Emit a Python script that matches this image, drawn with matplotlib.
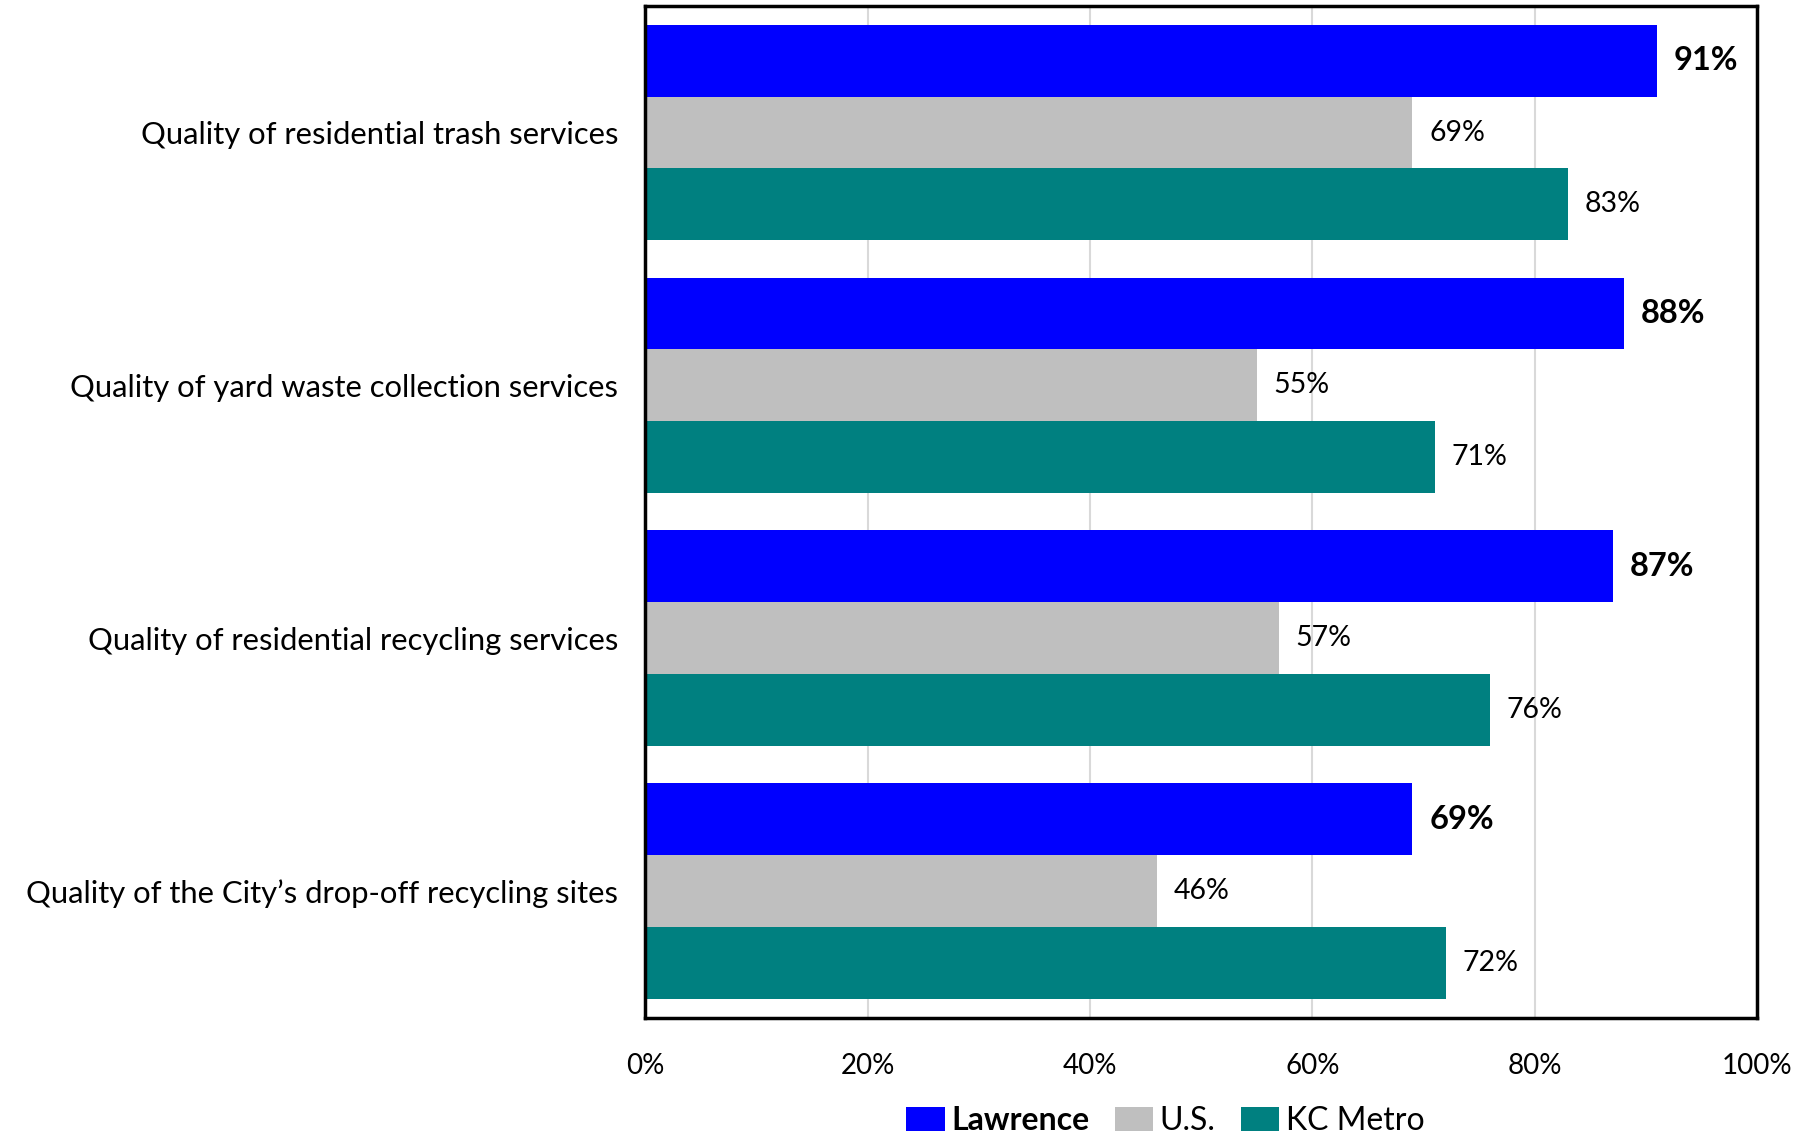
import numpy as np
import matplotlib.pyplot as plt
from matplotlib.ticker import FuncFormatter

plt.rcParams['font.family'] = ['Lato', 'DejaVu Sans']

# Data
categories = ["Quality of residential trash services",
              "Quality of yard waste collection services",
              "Quality of residential recycling services",
              "Quality of the City\u2019s drop-off recycling sites"]
series = ["Lawrence", "U.S.", "KC Metro"]
lawrence = [91, 88, 87, 69]
us = [69, 55, 57, 46]
kc_metro = [83, 71, 76, 72]
colors = ["#0000FF", "#BFBFBF", "#008080"]

fig = plt.figure(figsize=(18.18, 11.36), dpi=100)
ax = fig.add_axes([0.355, 0.104, 0.6115, 0.8907])

y = np.arange(len(categories))
h = 0.2845
for i, (name, vals, col) in enumerate(zip(series, [lawrence, us, kc_metro], colors)):
    pos = y + (i - 1) * h
    ax.barh(pos, vals, height=h, color=col, label=name, zorder=2)
    for p, v in zip(pos, vals):
        if i == 0:
            ax.text(v + 1.5, p, f"{v}%", va='center', ha='left', fontsize=23.5, fontweight='bold')
        else:
            ax.text(v + 1.5, p, f"{v}%", va='center', ha='left', fontsize=20.5)

ax.set_xlim(0, 100)
ax.set_ylim(3.5, -0.5)
ax.set_yticks(y)
ax.set_yticklabels(categories, fontsize=22.3)
ax.set_xticks(np.arange(0, 101, 20))
ax.xaxis.set_major_formatter(FuncFormatter(lambda v, _: f"{int(v)}%"))
ax.tick_params(axis='x', labelsize=20, length=0, pad=25)
ax.tick_params(axis='y', length=0, pad=19.5)
ax.grid(axis='x', color='#D9D9D9', linewidth=1.5, zorder=0)
for s in ax.spines.values():
    s.set_linewidth(2.5)
    s.set_color('black')

handles, labels = ax.get_legend_handles_labels()
leg = fig.legend(handles, labels, loc='center', bbox_to_anchor=(0.641, 0.013), ncol=3,
                 frameon=False, fontsize=23, handlelength=1.2, handleheight=0.8,
                 handletextpad=0.2, columnspacing=0.8, borderpad=0)
leg.get_texts()[0].set_fontweight('bold')

fig.savefig("out.png", dpi=100)
